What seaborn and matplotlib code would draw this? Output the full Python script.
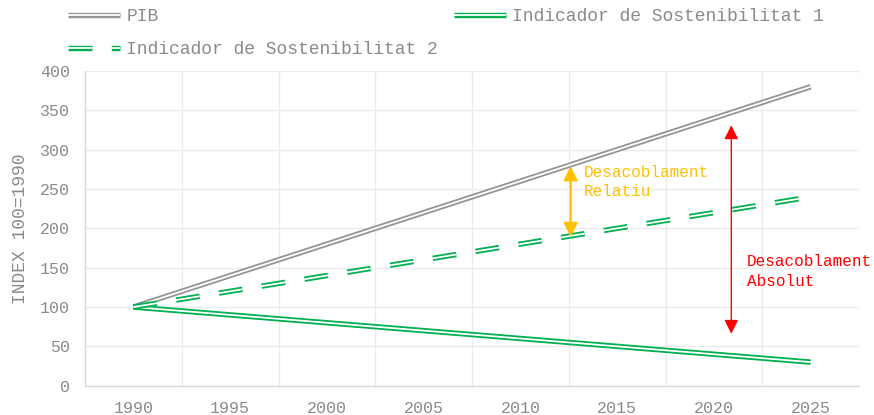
import matplotlib
matplotlib.use("Agg")
import matplotlib.pyplot as plt
import matplotlib.patheffects as pe
import numpy as np
import pandas as pd
import seaborn as sns

years = [1990, 1995, 2000, 2005, 2010, 2015, 2020, 2025]
pib = [100, 140, 180, 220, 260, 300, 340, 380]
indicador_1 = [100, 90, 80, 70, 60, 50, 40, 30]
indicador_2 = [100, 120, 140, 160, 180, 200, 220, 240]

y_ticks = [0, 50, 100, 150, 200, 250, 300, 350, 400]

GRAY = "#959595"
GREEN = "#00B050"
TEXT = "#8A8A8A"
YELLOW = "#FFC000"
RED = "#FF0000"

sns.set_style("white")
plt.rcParams["font.family"] = ["Liberation Mono", "DejaVu Sans"]

data = pd.DataFrame({
    "year": years,
    "PIB": pib,
    "Indicador de Sostenibilitat 1": indicador_1,
    "Indicador de Sostenibilitat 2": indicador_2,
})


def double_line(color):
    # two thin parallel strokes, like Excel's compound line
    return [pe.Stroke(linewidth=3.9, foreground=color),
            pe.Stroke(linewidth=1.3, foreground="white")]


line_kws = dict(lw=3.9, solid_capstyle="butt", dash_capstyle="butt")

fig = plt.figure(figsize=(8.74, 4.15), dpi=100)
ax = fig.add_axes([85 / 874, 1 - 385.7 / 415, (859 - 85) / 874, (385.7 - 71) / 415])

sns.lineplot(data=data, x="year", y="PIB", ax=ax, color=GRAY,
             path_effects=double_line(GRAY), label="PIB", **line_kws)
sns.lineplot(data=data, x="year", y="Indicador de Sostenibilitat 1", ax=ax, color=GREEN,
             path_effects=double_line(GREEN), label="Indicador de Sostenibilitat 1",
             **line_kws)
sns.lineplot(data=data, x="year", y="Indicador de Sostenibilitat 2", ax=ax, color=GREEN,
             linestyle=(0, (4.4, 3.6)), path_effects=double_line(GREEN),
             label="Indicador de Sostenibilitat 2", **line_kws)

ax.set_xlim(1987.5, 2027.5)
ax.set_ylim(0, 400)
ax.set_xticks(years)
ax.set_xticks([y + 2.5 for y in years], minor=True)
ax.set_yticks(y_ticks)
ax.grid(True, which="minor", axis="x", color="#EBEBEB", lw=1)
ax.grid(True, which="major", axis="y", color="#EBEBEB", lw=1)
ax.set_axisbelow(True)
for side in ["top", "right"]:
    ax.spines[side].set_visible(False)
for side in ["left", "bottom"]:
    ax.spines[side].set_color("#D9D9D9")
    ax.spines[side].set_linewidth(1)

ax.tick_params(axis="both", which="both", length=0, labelsize=12, labelcolor=TEXT)
ax.tick_params(axis="x", pad=11)
ax.tick_params(axis="y", pad=11)
ax.set_xlabel("")
ax.set_ylabel("INDEX 100=1990", fontsize=13, color=TEXT, labelpad=8)

# decoupling arrows
ax.annotate("", xy=(2012.6, 279), xytext=(2012.6, 189),
            arrowprops=dict(arrowstyle="<|-|>,head_length=0.7,head_width=0.35",
                            mutation_scale=12, color=YELLOW, lw=1.6,
                            shrinkA=0, shrinkB=0))
ax.text(2013.3, 281, "Desacoblament\nRelatiu", color=YELLOW, fontsize=11.5,
        va="top", ha="left", linespacing=1.35)

ax.annotate("", xy=(2020.9, 331), xytext=(2020.9, 66),
            arrowprops=dict(arrowstyle="<|-|>,head_length=0.7,head_width=0.35",
                            mutation_scale=12, color=RED, lw=1.0,
                            shrinkA=0, shrinkB=0))
ax.text(2021.7, 167, "Desacoblament\nAbsolut", color=RED, fontsize=11.5,
        va="top", ha="left", linespacing=1.35)

handles, labels = ax.get_legend_handles_labels()
ax.get_legend().remove()
order = [0, 2, 1]
fig.legend([handles[i] for i in order], [labels[i] for i in order],
           loc="upper left", bbox_to_anchor=(68 / 874, 1 - 8 / 415), ncol=2,
           frameon=False, fontsize=13, labelcolor=TEXT, handlelength=2.9,
           handletextpad=0.33, columnspacing=0.88, labelspacing=0.88,
           borderpad=0, borderaxespad=0)

fig.savefig("out.png", dpi=100)
